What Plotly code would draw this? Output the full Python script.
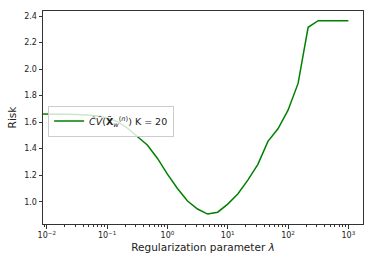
import plotly.graph_objects as go

# Regularization parameter lambda (1/6 decade steps)
lambdas = [0.00681, 0.01, 0.01468, 0.02154, 0.03162, 0.04642, 0.06813,
           0.1, 0.1468, 0.2154, 0.3162, 0.4642, 0.6813,
           1.0, 1.468, 2.154, 3.162, 4.642, 6.813,
           10.0, 14.68, 21.54, 31.62, 46.42, 68.13,
           100.0, 146.8, 215.4, 316.2, 464.2, 681.3, 1000.0]
risk = [1.662, 1.662, 1.661, 1.660, 1.658, 1.654, 1.646,
        1.632, 1.605, 1.556, 1.493, 1.428, 1.328,
        1.208, 1.100, 1.005, 0.945, 0.907, 0.921,
        0.982, 1.058, 1.163, 1.282, 1.455, 1.550,
        1.690, 1.892, 2.315, 2.365, 2.365, 2.365, 2.365]

x_ticks = [0.01, 0.1, 1, 10, 100, 1000]
x_ticktext = ["10<sup>\u22122</sup>", "10<sup>\u22121</sup>", "10<sup>0</sup>",
              "10<sup>1</sup>", "10<sup>2</sup>", "10<sup>3</sup>"]
y_ticks = [1.0, 1.2, 1.4, 1.6, 1.8, 2.0, 2.2, 2.4]
legend_label = "<i>C\u0302V\u0302</i>(<b>X\u0302</b><sub><i>w</i></sub><sup>(<i>n</i>)</sup>) K = 20"

fig = go.Figure()
fig.add_trace(go.Scatter(x=lambdas, y=risk, mode="lines",
                         line=dict(color="#008000", width=1.5),
                         name=legend_label, showlegend=True))

axis_common = dict(showline=True, linecolor="#333333", linewidth=1, mirror=True,
                   showgrid=False, zeroline=False, ticks="outside", ticklen=3.5,
                   tickwidth=0.8, tickcolor="#333333",
                   tickfont=dict(family="DejaVu Sans", size=8, color="#222222"))

fig.update_layout(
    width=374, height=265,
    margin=dict(l=43, r=11, t=11, b=41),
    paper_bgcolor="white", plot_bgcolor="white",
    font=dict(family="DejaVu Sans", color="#222222"),
    xaxis=dict(type="log", range=[-2.063, 3.243], tickvals=x_ticks, ticktext=x_ticktext,
               title=dict(text="Regularization parameter <i>λ</i>", font=dict(size=10.5), standoff=4),
               minor=dict(ticks="outside", ticklen=2, tickcolor="#333333", dtick="D1", showgrid=False),
               **axis_common),
    yaxis=dict(range=[0.832, 2.438], tickvals=y_ticks, ticktext=[f"{v:.1f}" for v in y_ticks],
               title=dict(text="Risk", font=dict(size=10.5), standoff=5),
               **axis_common),
    legend=dict(x=0.016, y=0.556, xanchor="left", yanchor="top",
                bgcolor="rgba(255,255,255,0.8)", bordercolor="#cccccc", borderwidth=1,
                font=dict(size=9.5, family="DejaVu Sans", color="#222222"),
                itemwidth=30, tracegroupgap=0),
)

fig.write_html("out.html", config={"displayModeBar": False},
               post_script="document.body.style.margin='0';")
